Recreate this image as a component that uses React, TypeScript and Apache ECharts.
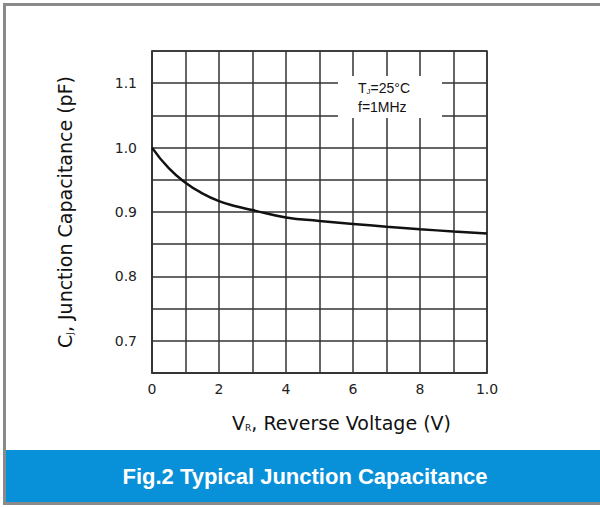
import React, { useEffect, useRef } from "react";
import * as echarts from "echarts";

// Data
const vr: number[] = [0, 0.5, 1, 1.5, 2, 2.5, 3, 4, 5, 6, 7, 8, 9, 10];
const cj: number[] = [1.0, 0.968, 0.9455, 0.929, 0.917, 0.909, 0.903, 0.8915, 0.8862, 0.8815, 0.8772, 0.8733, 0.8698, 0.8668];

const xTickValues: number[] = [0, 2, 4, 6, 8, 10];
const xTickLabels: string[] = ["0", "2", "4", "6", "8", "1.0"];
const yTickLabels: string[] = ["0.7", "0.8", "0.9", "1.0", "1.1"];

const titleText = "Fig.2 Typical Junction Capacitance";
const xName = "V{s|R}, Reverse Voltage (V)";
const yName = "C{s|J}, Junction Capacitance (pF)";
const noteLine1 = "T{s|J}=25°C";
const noteLine2 = "f=1MHz";

const GRID_COLOR = "#333333";
const FONT = "DejaVu Sans";

export default function App() {
  const ref = useRef<HTMLDivElement>(null);

  useEffect(() => {
    if (!ref.current) return;
    const chart = echarts.init(ref.current, null, { renderer: "svg" });
    const seriesData = vr.map((x, i) => [x, cj[i]]);

    chart.setOption({
      animation: false,
      backgroundColor: "#ffffff",
      grid: {
        left: 152,
        top: 51,
        right: 113,
        bottom: 134,
        show: true,
        borderColor: GRID_COLOR,
        borderWidth: 1.5,
        backgroundColor: "transparent",
      },
      xAxis: {
        type: "value",
        min: 0,
        max: 10,
        interval: 1,
        name: xName,
        nameLocation: "middle",
        nameGap: 40,
        nameTextStyle: {
          fontFamily: FONT,
          fontSize: 19,
          color: "#111",
          padding: [0, 0, 0, 44],
          rich: {
            s: { fontFamily: FONT, fontSize: 9, color: "#111", padding: [10, 0, 0, 0] },
          },
        },
        axisLine: { show: true, lineStyle: { color: GRID_COLOR, width: 1.5 } },
        axisTick: { show: false },
        axisLabel: {
          margin: 9,
          fontFamily: FONT,
          fontSize: 14,
          color: "#222",
          formatter: (v: number) => {
            const idx = xTickValues.findIndex((t) => Math.abs(t - v) < 1e-6);
            return idx >= 0 ? xTickLabels[idx] : "";
          },
        },
        splitLine: { show: true, lineStyle: { color: GRID_COLOR, width: 1.5 } },
      },
      yAxis: {
        type: "value",
        min: 0.65,
        max: 1.15,
        interval: 0.05,
        name: yName,
        nameLocation: "middle",
        nameRotate: 90,
        nameGap: 78,
        nameTextStyle: {
          fontFamily: FONT,
          fontSize: 19,
          color: "#111",
          rich: {
            s: { fontFamily: FONT, fontSize: 9, color: "#111", padding: [10, 0, 0, 0] },
          },
        },
        axisLine: { show: true, lineStyle: { color: GRID_COLOR, width: 1.5 } },
        axisTick: { show: false },
        axisLabel: {
          margin: 15,
          fontFamily: FONT,
          fontSize: 14,
          color: "#222",
          formatter: (v: number) => {
            const l = v.toFixed(1);
            return Math.abs(v - parseFloat(l)) < 1e-6 && yTickLabels.includes(l) ? l : "";
          },
        },
        splitLine: { show: true, lineStyle: { color: GRID_COLOR, width: 1.5 } },
      },
      series: [
        {
          type: "line",
          data: seriesData,
          smooth: true,
          showSymbol: false,
          symbol: "none",
          lineStyle: { color: "#111111", width: 2.5 },
          z: 5,
        },
      ],
      graphic: [
        {
          type: "rect",
          z: 100,
          shape: { x: 338, y: 76, width: 104, height: 42 },
          style: { fill: "#ffffff" },
        },
        {
          type: "text",
          z: 101,
          x: 358,
          y: 88,
          style: {
            text: noteLine1,
            fontFamily: "Liberation Sans",
            fontSize: 14,
            fill: "#111",
            verticalAlign: "middle",
            rich: {
              s: { fontFamily: "Liberation Sans", fontSize: 8, fill: "#111", padding: [7, 0, 0, 0] },
            },
          },
        },
        {
          type: "text",
          z: 101,
          x: 358,
          y: 107,
          style: {
            text: noteLine2,
            fontFamily: "Liberation Sans",
            fontSize: 14,
            fill: "#111",
            verticalAlign: "middle",
          },
        },
        {
          type: "rect",
          z: 100,
          shape: { x: 5, y: 450, width: 600, height: 52 },
          style: { fill: "#0890d8" },
        },
        {
          type: "text",
          z: 101,
          x: 305,
          y: 476,
          style: {
            text: titleText,
            fontFamily: "Liberation Sans",
            fontWeight: "bold",
            fontSize: 22,
            fill: "#ffffff",
            align: "center",
            verticalAlign: "middle",
          },
        },
        {
          type: "rect",
          z: 102,
          shape: { x: 4.5, y: 4.5, width: 600, height: 499 },
          style: { fill: "none", stroke: "#8a8a8a", lineWidth: 3 },
        },
      ],
    });

    return () => chart.dispose();
  }, []);

  return (
    <div
      ref={ref}
      style={{ position: "fixed", left: 0, top: 0, width: 600, height: 507, background: "#fff" }}
    />
  );
}
